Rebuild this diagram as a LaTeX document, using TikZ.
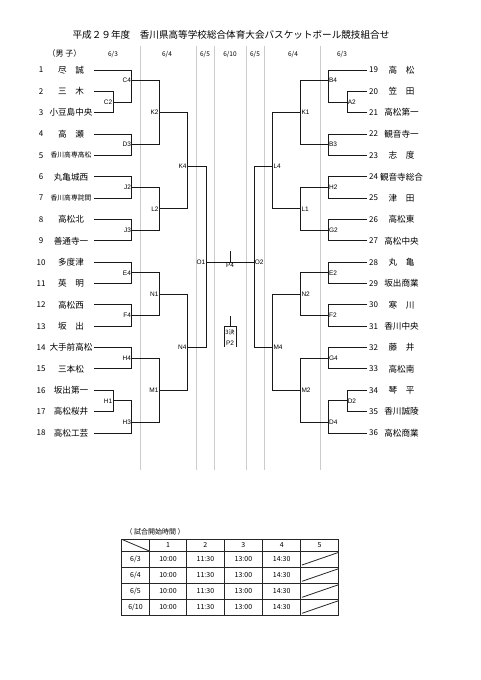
\documentclass[tikz,border=0pt]{standalone}
\usepackage{fontspec}
\setmainfont{Noto Sans CJK JP}
\newfontfamily\gamefont{Liberation Sans}
\usepackage{tikz}
\usetikzlibrary{positioning}

\begin{document}
\begin{tikzpicture}[
    x=1pt, y=-1pt,
    % Styles
    bline/.style={line width=0.9pt, black!90},
    dayline/.style={line width=1pt, black!20},
    daytxt/.style={font=\fontsize{6.5}{7}\selectfont, inner sep=0pt},
    numtxt/.style={font=\fontsize{8}{9}\selectfont, inner sep=0pt},
    teamtxt/.style={font=\fontsize{8.6}{9}\selectfont, inner sep=0pt},
    gametxt/.style={font=\gamefont\fontsize{6.5}{6.5}\selectfont, inner sep=0.6pt},
    cell/.style={font=\fontsize{7}{8}\selectfont, inner sep=0pt},
    tline/.style={line width=0.8pt, black!85}
]

\useasboundingbox[fill=white] (0,0) rectangle (481,680);

% Title
\node[font=\fontsize{9.6}{10}\selectfont] (title) at (231,35) {平成２９年度　香川県高等学校総合体育大会バスケットボール競技組合せ};
\node[font=\fontsize{8}{9}\selectfont] (grp) at (64.5,53) {（男 子）};

% Day columns
\foreach \x in {140,196,214,246,264,320}
    \draw[dayline] (\x,46) -- (\x,470);
\foreach \x/\m/\dd [count=\i] in {113/6/3, 167/6/4, 205/6/5, 230/6/10, 255/6/5, 293/6/4, 342/6/3}
    \node[daytxt] (day\i) at (\x,55) {\m/\dd};

% Teams, left side
\foreach \n/\nm in {1/尽　誠, 2/三　木, 3/小豆島中央, 4/高　瀬, 5/{\fontsize{6.8}{7}\selectfont 香川高専高松},
        6/丸亀城西, 7/{\fontsize{6.8}{7}\selectfont 香川高専詫間}, 8/高松北, 9/善通寺一, 10/多度津,
        11/英　明, 12/高松西, 13/坂　出, 14/大手前高松, 15/三本松, 16/坂出第一, 17/高松桜井, 18/高松工芸} {
    \node[numtxt] (no\n) at (41,{70+(\n-1)*21.35}) {\n};
    \node[teamtxt] (nm\n) at (71,{70+(\n-1)*21.35}) {\nm};
    \coordinate (t\n) at (94,{70+(\n-1)*21.35});
}

% Teams, right side
\foreach \n/\nm in {19/高　松, 20/笠　田, 21/高松第一, 22/観音寺一, 23/志　度, 24/観音寺総合,
        25/津　田, 26/高松東, 27/高松中央, 28/丸　亀, 29/坂出商業, 30/寒　川,
        31/香川中央, 32/藤　井, 33/高松南, 34/琴　平, 35/香川誠陵, 36/高松商業} {
    \node[numtxt, anchor=west] (no\n) at (369,{70+(\n-19)*21.35}) {\n};
    \node[teamtxt] (nm\n) at (401.5,{70+(\n-19)*21.35}) {\nm};
    \coordinate (t\n) at (367,{70+(\n-19)*21.35});
}

% Games, left side
\foreach \m/\x/\r in {C2/113/2.5, C4/131.7/1.5, D3/131.7/4.5, J2/131.7/6.5, J3/131.7/8.5,
        E4/131.7/10.5, F4/131.7/12.5, H4/131.7/14.5, H1/113/16.5, H3/131.7/17.5,
        K2/159.3/3, L2/159.3/7.5, N1/159.3/11.5, M1/159.3/16,
        K4/187.3/5.5, N4/187.3/14, O1/206/10} {
    \coordinate (\m) at (\x,{70+(\r-1)*21.35});
    \node[gametxt, left] (\m-t) at (\m) {\m};
}

% Games, right side
\foreach \m/\x/\r in {A2/347/2.5, B4/328.3/1.5, B3/328.3/4.5, H2/328.3/6.5, G2/328.3/8.5,
        E2/328.3/10.5, F2/328.3/12.5, G4/328.3/14.5, D2/347/16.5, D4/328.3/17.5,
        K1/300.7/3, L1/300.7/7.5, N2/300.7/11.5, M2/300.7/16,
        L4/272.7/5.5, M4/272.7/14, O2/254/10} {
    \coordinate (\m) at (\x,{70+(\r-1)*21.35});
    \node[gametxt, right] (\m-t) at (\m) {\m};
}

% Bracket lines
\foreach \a/\b in {t1/C4, t2/C2, t3/C2, C2/C4, t4/D3, t5/D3, C4/K2, D3/K2,
        t6/J2, t7/J2, t8/J3, t9/J3, J2/L2, J3/L2, K2/K4, L2/K4,
        t10/E4, t11/E4, t12/F4, t13/F4, E4/N1, F4/N1,
        t14/H4, t15/H4, t16/H1, t17/H1, H1/H3, t18/H3, H4/M1, H3/M1,
        N1/N4, M1/N4, K4/O1, N4/O1,
        t19/B4, t20/A2, t21/A2, A2/B4, t22/B3, t23/B3, B4/K1, B3/K1,
        t24/H2, t25/H2, t26/G2, t27/G2, H2/L1, G2/L1, K1/L4, L1/L4,
        t28/E2, t29/E2, t30/F2, t31/F2, E2/N2, F2/N2,
        t32/G4, t33/G4, t34/D2, t35/D2, D2/D4, t36/D4, G4/M2, D4/M2,
        N2/M4, M2/M4, L4/O2, M4/O2}
    \draw[bline] (\a) -| (\b);

% Final and third place
\draw[bline] (O1) -- (O2);
\coordinate (P4) at (230,{70+9*21.35});
\coordinate (P4top) at (230,251);
\draw[bline] (P4top) -- (P4);
\node[gametxt, below=0.5pt of P4] (P4-t) {P4};

\coordinate (P2top) at (230,316);
\coordinate (P2) at (230,326);
\draw[bline] (P2top) -- (P2);
\draw[bline] (224,347) -- (224,326) -- (236,326) -- (236,347);
\node[gametxt, font=\fontsize{6}{6}\selectfont] (P2-a) at (230,332) {3決};
\node[gametxt] (P2-b) at (230,343) {P2};

% Start times
\node[font=\fontsize{7}{8}\selectfont, anchor=west] (tcap) at (122,531.7) {（ 試合開始時間 ）};
\draw[tline] (121.7,539.3) rectangle (338.3,615.3);
\foreach \x in {149.3,186.7,224,262.7,300.7}
    \draw[tline] (\x,539.3) -- (\x,615.3);
\foreach \y in {551,567.3,583.3,599.3}
    \draw[tline] (121.7,\y) -- (338.3,\y);
\draw[tline] (121.7,539.3) -- (149.3,551);
\foreach \y in {551,567.3,583.3,599.3}
    \draw[tline] (302,{\y+14}) -- (338.3,{\y+1.5});

\foreach \c/\x in {1/168, 2/205.4, 3/243.4, 4/281.7, 5/319.5}
    \node[cell] (hd\c) at (\x,545.2) {\c};
\foreach \r/\y/\m/\dd in {1/559.2/6/3, 2/575.3/6/4, 3/591.3/6/5, 4/607.3/6/10} {
    \node[cell] (dt\r) at (135.5,\y) {\m/\dd};
    \foreach \c/\x/\tm in {1/168/10:00, 2/205.4/11:30, 3/243.4/13:00, 4/281.7/14:30}
        \node[cell] (c\r-\c) at (\x,\y) {\tm};
}

\end{tikzpicture}
\end{document}
